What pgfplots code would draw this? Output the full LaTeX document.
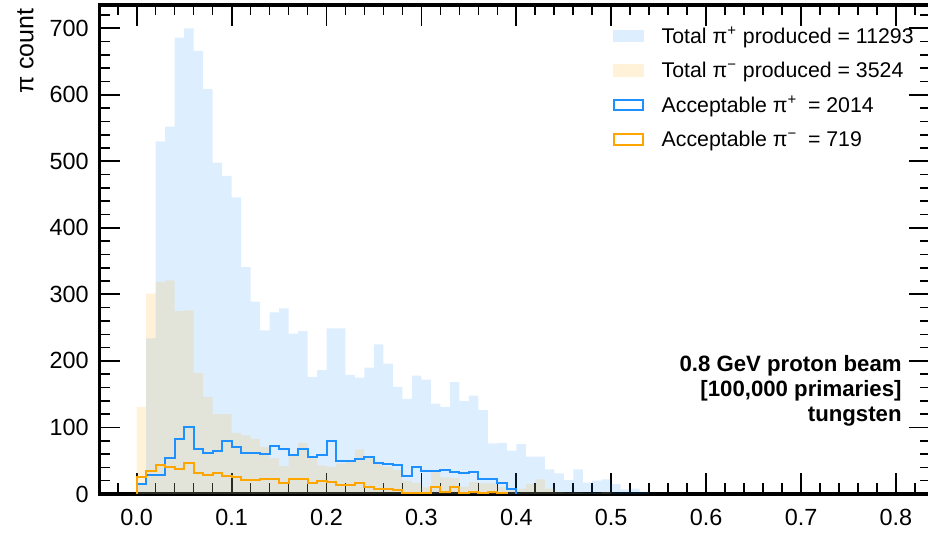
\documentclass[border=0pt]{standalone}
\usepackage{fontspec}
\setmainfont{Liberation Sans}
\usepackage{pgfplots}
\pgfplotsset{compat=1.18}
\definecolor{pipl}{RGB}{30,144,255}
\definecolor{pimi}{RGB}{255,165,0}
\begin{document}
\begin{tikzpicture}
\begin{axis}[
  name=ax, at={(0,0)}, anchor=south west,
  scale only axis, width=415.25pt, height=244.5pt,
  xmin=-0.0392, xmax=0.8359, ymin=0, ymax=735,
  axis line style={line width=1.6pt},
  xtick={0,0.1,0.2,0.3,0.4,0.5,0.6,0.7,0.8},
  minor xtick={-0.02,0,...,0.82},
  ytick={0,100,...,700},
  minor ytick={0,20,...,720},
  tick align=inside,
  major tick length=10.5pt, minor tick length=5.25pt,
  major tick style={line width=0.9pt, black},
  minor tick style={line width=0.8pt, black},
  tick label style={font=\fontsize{11.7}{13}\selectfont, inner sep=0pt},
  /pgf/number format/assume math mode=true,
  xticklabel style={/pgf/number format/.cd, fixed, fixed zerofill, precision=1},
  yticklabel shift=5.25pt, xticklabel shift=7.5pt,
  legend style={at={(rel axis cs:0.6183,1)}, anchor=north west, yshift=-11.65pt,
    draw=none, fill=none, inner sep=0pt, outer sep=0pt,
    row sep=7.75pt, column sep=8.85pt,
    font=\fontsize{10.65}{12}\selectfont,
    nodes={inner sep=0pt, anchor=base west, text height=7.5pt, text depth=2pt}},
]
% Total pi+ produced
\addplot[fill=pipl, fill opacity=0.15, draw=none, const plot mark left,
  legend image code/.code={\fill[pipl, fill opacity=0.15] (0pt,0.5pt) rectangle (15.5pt,6.8pt);}]
coordinates {
(0.00,15) (0.01,234) (0.02,530) (0.03,552) (0.04,686) (0.05,700) (0.06,666) (0.07,609)
(0.08,498) (0.09,478) (0.10,446) (0.11,341) (0.12,289) (0.13,246) (0.14,273) (0.15,279)
(0.16,241) (0.17,245) (0.18,176) (0.19,186) (0.20,249) (0.21,249) (0.22,179) (0.23,175)
(0.24,190) (0.25,225) (0.26,196) (0.27,161) (0.28,143) (0.29,178) (0.30,172) (0.31,136)
(0.32,131) (0.33,168) (0.34,140) (0.35,148) (0.36,126) (0.37,76) (0.38,77) (0.39,65)
(0.40,75) (0.41,56) (0.42,56) (0.43,37) (0.44,31) (0.45,21) (0.46,37) (0.47,17)
(0.48,20) (0.49,22) (0.50,15) (0.51,7) (0.52,8) (0.53,3) (0.54,0)
} \closedcycle;
\addlegendentry{Total π\textsuperscript{+} produced = 11293}
% Total pi- produced
\addplot[fill=pimi, fill opacity=0.15, draw=none, const plot mark left,
  legend image code/.code={\fill[pimi, fill opacity=0.15] (0pt,0.5pt) rectangle (15.5pt,6.8pt);}]
coordinates {
(0.00,131) (0.01,301) (0.02,319) (0.03,321) (0.04,275) (0.05,276) (0.06,182) (0.07,146)
(0.08,120) (0.09,120) (0.10,92) (0.11,88) (0.12,83) (0.13,71) (0.14,54) (0.15,42)
(0.16,60) (0.17,77) (0.18,56) (0.19,43) (0.20,41) (0.21,46) (0.22,51) (0.23,67)
(0.24,56) (0.25,46) (0.26,41) (0.27,36) (0.28,20) (0.29,17) (0.30,10) (0.31,33)
(0.32,25) (0.33,24) (0.34,11) (0.35,18) (0.36,16) (0.37,16) (0.38,11) (0.39,7)
(0.40,8) (0.41,15) (0.42,22) (0.43,8) (0.44,3) (0.45,2) (0.46,2) (0.47,1)
(0.48,1) (0.49,3) (0.50,0)
} \closedcycle;
\addlegendentry{Total π\textsuperscript{−} produced = 3524}
% Acceptable pi+
\addplot[pipl, line width=1pt, const plot mark left,
  legend image code/.code={\draw[pipl, line width=1pt] (0.5pt,1pt) rectangle (15pt,6.3pt);}]
coordinates {
(0.00,0) (0.00,15) (0.01,29) (0.02,29) (0.03,54) (0.04,83) (0.05,101) (0.06,68) (0.07,61)
(0.08,65) (0.09,79) (0.10,70) (0.11,61) (0.12,62) (0.13,60) (0.14,72) (0.15,68)
(0.16,58) (0.17,68) (0.18,55) (0.19,58) (0.20,80) (0.21,50) (0.22,50) (0.23,52)
(0.24,56) (0.25,47) (0.26,45) (0.27,44) (0.28,27) (0.29,41) (0.30,34) (0.31,35)
(0.32,36) (0.33,33) (0.34,31) (0.35,33) (0.36,22) (0.37,22) (0.38,17) (0.39,8)
(0.40,0)
};
\addlegendentry{Acceptable π\textsuperscript{+}\hspace{0.5em}= 2014}
% Acceptable pi-
\addplot[pimi, line width=1pt, const plot mark left,
  legend image code/.code={\draw[pimi, line width=1pt] (0.5pt,1pt) rectangle (15pt,6.3pt);}]
coordinates {
(0.00,0) (0.00,26) (0.01,34) (0.02,44) (0.03,41) (0.04,38) (0.05,47) (0.06,32) (0.07,29)
(0.08,32) (0.09,27) (0.10,26) (0.11,21) (0.12,21) (0.13,23) (0.14,22) (0.15,17)
(0.16,22) (0.17,23) (0.18,17) (0.19,20) (0.20,18) (0.21,13) (0.22,13) (0.23,16)
(0.24,11) (0.25,8) (0.26,7) (0.27,6) (0.28,2) (0.29,2) (0.30,2) (0.31,10)
(0.32,3) (0.33,10) (0.34,2) (0.35,3) (0.36,2) (0.37,3) (0.38,1) (0.39,0)
};
\addlegendentry{Acceptable π\textsuperscript{−}\hspace{0.5em}= 719}
\end{axis}
\path (ax.north west) ++(-33.1pt,-1.5pt) node[rotate=90, anchor=base east, inner sep=0pt, font=\fontsize{12.5}{14}\selectfont] {π count};
\path (ax.south west) ++(401.25pt,61.15pt) node[anchor=base east, inner sep=0pt, font=\bfseries\fontsize{11.1}{12}\selectfont] {0.8 GeV proton beam};
\path (ax.south west) ++(401.25pt,48.75pt) node[anchor=base east, inner sep=0pt, font=\bfseries\fontsize{11.1}{12}\selectfont] {[100,000 primaries]};
\path (ax.south west) ++(401.25pt,36.35pt) node[anchor=base east, inner sep=0pt, font=\bfseries\fontsize{11.1}{12}\selectfont] {tungsten};
\pgfresetboundingbox
\path[use as bounding box] (-49.75pt,-19.5pt) rectangle (414.25pt,247pt);
\end{tikzpicture}
\end{document}
